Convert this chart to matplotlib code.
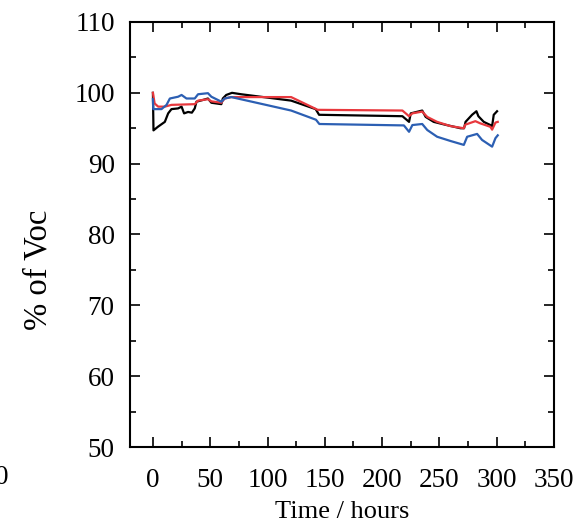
import matplotlib
matplotlib.use("Agg")
import matplotlib.pyplot as plt
from matplotlib.ticker import MultipleLocator

plt.rcParams['font.family'] = ['Liberation Serif', 'DejaVu Serif']

# Open-circuit voltage retention (% of initial Voc) versus time
t_black = [0, 0.5, 4.3, 10.4, 13.3, 16.2, 22, 25, 27.2, 30.7, 34, 36.5, 38, 43.8, 48,
           51, 59.7, 61, 64, 69, 77, 120.6, 142, 145, 217.7, 223.5, 225, 235, 238,
           245, 255, 268.4, 271.5, 272.8, 278.5, 282.3, 284, 288.7, 294.5, 296,
           297.4, 300.3]
v_black = [100.0, 94.7, 95.2, 95.9, 97.1, 97.7, 97.8, 98.05, 97.1, 97.3, 97.2, 97.8,
           98.75, 99.0, 99.2, 98.6, 98.4, 99.2, 99.7, 100.0, 99.8, 98.9, 97.7, 96.9,
           96.7, 95.9, 97.1, 97.5, 96.6, 95.9, 95.5, 95.0, 95.0, 95.9, 96.9, 97.4,
           96.7, 95.9, 95.45, 95.3, 96.9, 97.4]

t_red = [0, 1.5, 4.6, 10.4, 16.2, 36.5, 39.4, 48, 51, 59.7, 62.6, 68.4, 120.6, 143.8,
         217.7, 223.5, 226.4, 235, 239.4, 248, 259.7, 271.3, 272.5, 281.4, 285.5,
         294.5, 296, 298.9, 300.9]
v_red = [100.0, 98.5, 98.05, 98.05, 98.3, 98.4, 98.9, 99.1, 98.8, 98.6, 99.2, 99.4,
         99.4, 97.6, 97.5, 96.7, 97.1, 97.35, 96.6, 95.9, 95.3, 95.0, 95.5, 96.0,
         95.7, 95.2, 94.8, 95.8, 95.9]

t_blue = [0, 0.3, 7.5, 11.9, 14.8, 22, 25, 29.3, 36.5, 39.4, 48, 51, 59.7, 62.6, 68.4,
          120.6, 142.3, 145.2, 219, 223.5, 226.4, 235, 239.4, 248, 259.7, 271.3,
          274.2, 282.9, 287.2, 296, 298.9, 300.9]
v_blue = [99.1, 97.7, 97.7, 98.3, 99.2, 99.45, 99.7, 99.2, 99.2, 99.8, 99.95, 99.45,
          98.75, 99.2, 99.4, 97.5, 96.2, 95.6, 95.4, 94.5, 95.45, 95.6, 94.75, 93.8,
          93.2, 92.65, 93.8, 94.2, 93.35, 92.4, 93.6, 94.0]

x_ticks = [0, 50, 100, 150, 200, 250, 300, 350]
y_ticks = [50, 60, 70, 80, 90, 100, 110]

fig = plt.figure(figsize=(5.78, 5.30), dpi=100)
ax = fig.add_axes([0.2249, 0.1566, 0.7336, 0.8019])

ax.plot(t_black, v_black, color='black', lw=1.6)
ax.plot(t_red, v_red, color='#e8383d', lw=1.6)
ax.plot(t_blue, v_blue, color='#2c5fb3', lw=1.6)

ax.set_xlim(-20, 350)
ax.set_ylim(50, 110)
ax.set_xticks(x_ticks)
ax.set_yticks(y_ticks)
ax.xaxis.set_minor_locator(MultipleLocator(25))
ax.yaxis.set_minor_locator(MultipleLocator(5))
ax.tick_params(which='both', direction='in', top=True, right=True, width=1.2)
ax.tick_params(which='major', length=7, labelsize=19.5)
ax.tick_params(axis='x', which='major', pad=15)
ax.tick_params(axis='y', which='major', pad=11)
ax.tick_params(which='minor', length=4)
for s in ax.spines.values():
    s.set_linewidth(1.5)

ax.set_xlabel('Time / hours', fontsize=19)
ax.xaxis.set_label_coords(0.5, -54 / 425)
ax.set_ylabel('% of Voc', fontsize=23.5)
ax.yaxis.set_label_coords(-76 / 424, 0.416)

# partial tick label from a neighbouring panel
fig.text(8.5 / 578, 1 - 477 / 530, '0', fontsize=19.5, ha='right', va='center')

fig.savefig('out.png', dpi=100)
